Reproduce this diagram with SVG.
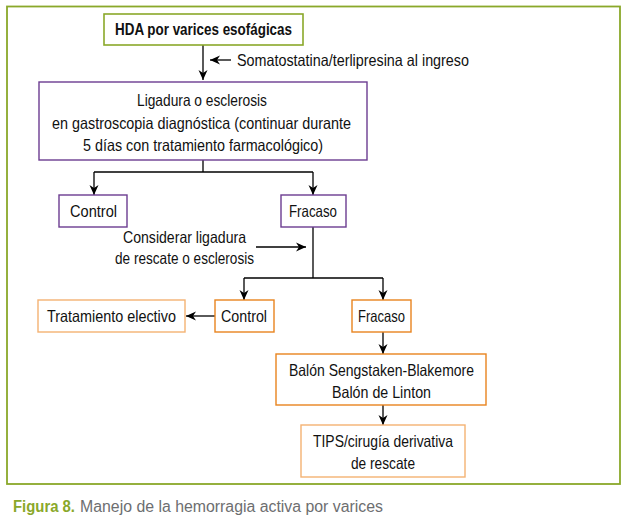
<svg xmlns="http://www.w3.org/2000/svg" width="629" height="519" viewBox="0 0 629 519">
<defs>
<marker id="arr" markerUnits="userSpaceOnUse" markerWidth="11" markerHeight="10" refX="10" refY="5" orient="auto">
<path d="M0,0.5 L10,5 L0,9.5 L3,5 Z" fill="#000"/>
</marker>
<style>
.t{font-family:"Liberation Sans",Arial,sans-serif;font-size:16.5px;fill:#111;text-anchor:middle}
.b{font-weight:bold}
.cap{font-family:"Liberation Sans",Arial,sans-serif;font-size:16px}
.green{fill:#fff;stroke:#8aa82a;stroke-width:1.6}
.purple{fill:#fff;stroke:#6c3c91;stroke-width:1.4}
.orD{fill:#fff;stroke:#e8841e;stroke-width:1.4}
.orL{fill:#fff;stroke:#f4b273;stroke-width:1.4}
.c{fill:none;stroke:#000;stroke-width:1.3}
.ca{fill:none;stroke:#000;stroke-width:1.3;marker-end:url(#arr)}
</style>
</defs>
<rect width="629" height="519" fill="#fff"/>
<rect x="7" y="6.5" width="613" height="477.5" fill="none" stroke="#8aa82a" stroke-width="1.8"/>

<g id="connectors">
<line class="ca" x1="203" y1="45" x2="203" y2="80"/>
<line class="ca" x1="231" y1="60" x2="210" y2="60"/>
<polyline class="c" points="203,160 203,172"/>
<polyline class="c" points="94,172 313,172"/>
<line class="ca" x1="94" y1="172" x2="94" y2="195"/>
<line class="ca" x1="313" y1="172" x2="313" y2="195"/>
<polyline class="c" points="313,227 313,278"/>
<polyline class="c" points="244,278 383,278"/>
<line class="ca" x1="244" y1="278" x2="244" y2="300"/>
<line class="ca" x1="383" y1="278" x2="383" y2="300"/>
<line class="ca" x1="256" y1="247" x2="306" y2="247"/>
<line class="ca" x1="215" y1="316" x2="186" y2="316"/>
<line class="ca" x1="383" y1="332" x2="383" y2="354"/>
<line class="ca" x1="383" y1="405" x2="383" y2="425"/>
</g>

<g id="n-hda">
<rect class="green" x="104" y="14" width="199" height="31"/>
<text class="t b" x="203.5" y="35" textLength="177" lengthAdjust="spacingAndGlyphs">HDA por varices esofágicas</text>
</g>
<g id="l-soma">
<text class="t" x="353" y="66" textLength="232" lengthAdjust="spacingAndGlyphs">Somatostatina/terlipresina al ingreso</text>
</g>
<g id="n-ligadura">
<rect class="purple" x="39" y="82" width="328" height="78"/>
<text class="t" x="202" y="106" textLength="130" lengthAdjust="spacingAndGlyphs">Ligadura o esclerosis</text>
<text class="t" x="201.5" y="128.5" textLength="299" lengthAdjust="spacingAndGlyphs">en gastroscopia diagnóstica (continuar durante</text>
<text class="t" x="203" y="150.5" textLength="240" lengthAdjust="spacingAndGlyphs">5 días con tratamiento farmacológico)</text>
</g>
<g id="n-control1">
<rect class="purple" x="59" y="195" width="68" height="32"/>
<text class="t" x="93.5" y="216.5" textLength="47" lengthAdjust="spacingAndGlyphs">Control</text>
</g>
<g id="n-fracaso1">
<rect class="purple" x="281" y="195" width="65" height="32"/>
<text class="t" x="313" y="216.5" textLength="48" lengthAdjust="spacingAndGlyphs">Fracaso</text>
</g>
<g id="l-considerar">
<text class="t" x="184.5" y="243" textLength="123" lengthAdjust="spacingAndGlyphs">Considerar ligadura</text>
<text class="t" x="184.5" y="264" textLength="139" lengthAdjust="spacingAndGlyphs">de rescate o esclerosis</text>
</g>
<g id="n-tratamiento">
<rect class="orL" x="38" y="300" width="147" height="32"/>
<text class="t" x="111.5" y="321.5" textLength="129" lengthAdjust="spacingAndGlyphs">Tratamiento electivo</text>
</g>
<g id="n-control2">
<rect class="orD" x="215" y="300" width="59" height="32"/>
<text class="t" x="244" y="321.5" textLength="46" lengthAdjust="spacingAndGlyphs">Control</text>
</g>
<g id="n-fracaso2">
<rect class="orD" x="352" y="300" width="59" height="32"/>
<text class="t" x="381.5" y="321.5" textLength="47" lengthAdjust="spacingAndGlyphs">Fracaso</text>
</g>
<g id="n-balon">
<rect class="orD" x="276" y="354" width="210" height="51"/>
<text class="t" x="381.5" y="375.5" textLength="185" lengthAdjust="spacingAndGlyphs">Balón Sengstaken-Blakemore</text>
<text class="t" x="381.5" y="397.5" textLength="99" lengthAdjust="spacingAndGlyphs">Balón de Linton</text>
</g>
<g id="n-tips">
<rect class="orL" x="301" y="425" width="164" height="52"/>
<text class="t" x="383" y="446.5" textLength="140" lengthAdjust="spacingAndGlyphs">TIPS/cirugía derivativa</text>
<text class="t" x="383" y="468.5" textLength="64" lengthAdjust="spacingAndGlyphs">de rescate</text>
</g>
<g id="caption">
<text class="cap" x="13" y="512" font-weight="bold" fill="#8aa82a" textLength="62" lengthAdjust="spacingAndGlyphs">Figura 8.</text>
<text class="cap" x="80" y="512" fill="#6d6e70" textLength="303" lengthAdjust="spacingAndGlyphs">Manejo de la hemorragia activa por varices</text>
</g>
</svg>
